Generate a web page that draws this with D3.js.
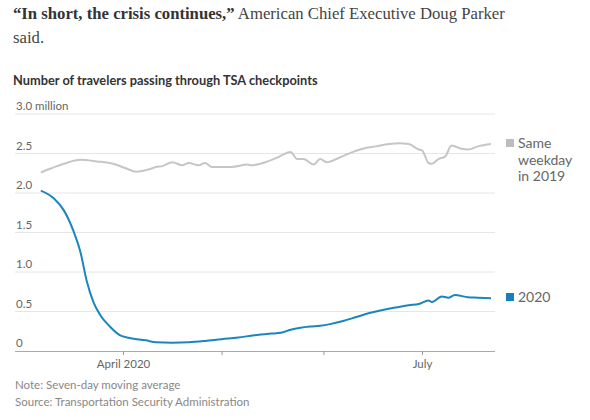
<!DOCTYPE html>
<html><head><meta charset="utf-8">
<script src="https://cdn.jsdelivr.net/npm/d3@7"></script>
<style>
body{margin:0;background:#fff;}
svg{display:block;}
</style></head>
<body>
<script>
// ---- data ----
const series2019Dates = ["2020-03-07","2020-03-10","2020-03-14","2020-03-19","2020-03-24","2020-03-29","2020-04-02","2020-04-05","2020-04-09","2020-04-11","2020-04-13","2020-04-16","2020-04-19","2020-04-21","2020-04-24","2020-04-26","2020-04-28","2020-05-04","2020-05-09","2020-05-10","2020-05-15","2020-05-18","2020-05-22","2020-05-24","2020-05-26","2020-05-29","2020-05-31","2020-06-02","2020-06-06","2020-06-10","2020-06-13","2020-06-17","2020-06-21","2020-06-24","2020-06-27","2020-06-30","2020-07-01","2020-07-03","2020-07-04","2020-07-06","2020-07-08","2020-07-10","2020-07-13","2020-07-15","2020-07-18","2020-07-22"];
const series2019Values = [2.26,2.31,2.37,2.42,2.40,2.37,2.31,2.27,2.30,2.33,2.34,2.39,2.35,2.38,2.35,2.38,2.33,2.33,2.36,2.35,2.40,2.45,2.52,2.43,2.43,2.36,2.43,2.39,2.45,2.52,2.56,2.59,2.62,2.63,2.62,2.55,2.54,2.38,2.37,2.43,2.46,2.60,2.56,2.55,2.59,2.62];

const series2020Dates = ["2020-03-07","2020-03-11","2020-03-14","2020-03-17","2020-03-19","2020-03-21","2020-03-23","2020-03-25","2020-03-28","2020-03-31","2020-04-03","2020-04-08","2020-04-11","2020-04-16","2020-04-21","2020-04-26","2020-05-01","2020-05-06","2020-05-11","2020-05-16","2020-05-19","2020-05-22","2020-05-25","2020-05-28","2020-05-31","2020-06-03","2020-06-07","2020-06-11","2020-06-15","2020-06-19","2020-06-23","2020-06-27","2020-06-30","2020-07-03","2020-07-04","2020-07-07","2020-07-09","2020-07-11","2020-07-15","2020-07-18","2020-07-22"];
const series2020Values = [2.03,1.93,1.78,1.51,1.26,0.88,0.62,0.46,0.31,0.20,0.165,0.135,0.11,0.105,0.11,0.127,0.15,0.17,0.20,0.22,0.23,0.27,0.295,0.31,0.32,0.34,0.38,0.43,0.48,0.52,0.55,0.58,0.595,0.64,0.62,0.69,0.675,0.71,0.68,0.675,0.667];

const yTicks = [0, 0.5, 1.0, 1.5, 2.0, 2.5, 3.0];
const yTickLabels = ["0","0.5","1.0","1.5","2.0","2.5","3.0 million"];
const xTickDates = ["2020-04-01","2020-05-01","2020-06-01","2020-07-01"];
const xTickLabels = ["April 2020","","","July"];
const legendLabels2019 = ["Same","weekday","in 2019"];
const legendLabel2020 = "2020";

const quoteBold = "\u201CIn short, the crisis continues,\u201D";
const quoteRest = " American Chief Executive Doug Parker";
const quoteLine2 = "said.";
const chartTitle = "Number of travelers passing through TSA checkpoints";
const noteText = "Note: Seven-day moving average";
const sourceText = "Source: Transportation Security Administration";

// ---- layout ----
const W = 590, H = 420;
const parse = d3.utcParse("%Y-%m-%d");
const gridX0 = 15, gridX1 = 495;
const sans = "Lato,'DejaVu Sans Condensed',sans-serif";
const serif = "'Liberation Serif','DejaVu Serif',serif";

const x = d3.scaleUtc().domain([parse("2020-04-01"), parse("2020-07-01")]).range([123, 422]);
const y = d3.scaleLinear().domain([0, 3]).range([351, 114]);

const svg = d3.select("body").append("svg").attr("width", W).attr("height", H);

// quote
const q = svg.append("text").attr("x", 13).attr("y", 19)
  .attr("font-family", serif).attr("font-size", 16.7).attr("fill", "#333");
q.append("tspan").attr("font-weight", "bold").text(quoteBold);
q.append("tspan").attr("fill", "#444").text(quoteRest);
svg.append("text").attr("x", 13).attr("y", 43)
  .attr("font-family", serif).attr("font-size", 16.7).attr("fill", "#444")
  .text(quoteLine2);

// title
svg.append("text").attr("x", 13).attr("y", 85)
  .attr("font-family", sans).attr("font-weight", "bold").attr("font-size", 12.8).attr("fill", "#333")
  .text(chartTitle);

// gridlines + y labels
const gY = svg.append("g");
yTicks.forEach((t, i) => {
  if (t !== 0) {
    gY.append("line").attr("x1", gridX0).attr("x2", gridX1)
      .attr("y1", y(t)).attr("y2", y(t)).attr("stroke", "#e6e6e6").attr("stroke-width", 1);
  }
  gY.append("text").attr("x", 16).attr("y", y(t) - 4)
    .attr("font-family", sans).attr("font-size", 11.5).attr("fill", "#666")
    .text(yTickLabels[i]);
});

// x axis
const xAxis = d3.axisBottom(x)
  .tickValues(xTickDates.map(parse))
  .tickFormat((d, i) => xTickLabels[i])
  .tickSize(4).tickPadding(5);
const gx = svg.append("g").attr("transform", `translate(0,${y(0)})`).call(xAxis);
gx.select(".domain").remove();
gx.insert("line", ":first-child").attr("x1", gridX0).attr("x2", gridX1).attr("y1", 0.5).attr("y2", 0.5)
  .attr("stroke", "#aaa").attr("stroke-width", 1);
gx.selectAll(".tick line").attr("stroke", "#999");
gx.selectAll(".tick text").attr("font-family", sans).attr("font-size", 11.5).attr("fill", "#666");

// lines
const line = d3.line().x(d => x(d[0])).y(d => y(d[1])).curve(d3.curveMonotoneX);
const d2019 = series2019Dates.map((d, i) => [parse(d), series2019Values[i]]);
const d2020 = series2020Dates.map((d, i) => [parse(d), series2020Values[i]]);
svg.append("path").datum(d2019).attr("d", line).attr("fill", "none")
  .attr("stroke", "#c6c6c6").attr("stroke-width", 2).attr("stroke-linejoin", "round");
svg.append("path").datum(d2020).attr("d", line).attr("fill", "none")
  .attr("stroke", "#1a86bd").attr("stroke-width", 2).attr("stroke-linejoin", "round");

// legend
const lg = svg.append("g");
lg.append("rect").attr("x", 506).attr("y", 139).attr("width", 8).attr("height", 8).attr("fill", "#bdbdbd");
legendLabels2019.forEach((t, i) => {
  lg.append("text").attr("x", 518).attr("y", 148 + i * 16.5)
    .attr("font-family", sans).attr("font-size", 14).attr("fill", "#666").text(t);
});
lg.append("rect").attr("x", 506).attr("y", 293).attr("width", 8).attr("height", 8).attr("fill", "#1a7fb8");
lg.append("text").attr("x", 518).attr("y", 302)
  .attr("font-family", sans).attr("font-size", 14).attr("fill", "#666").text(legendLabel2020);

// footer
svg.append("text").attr("x", 15).attr("y", 389)
  .attr("font-family", sans).attr("font-size", 11.5).attr("fill", "#888").text(noteText);
svg.append("text").attr("x", 15).attr("y", 406)
  .attr("font-family", sans).attr("font-size", 11.5).attr("fill", "#888").text(sourceText);
</script>
</body></html>
